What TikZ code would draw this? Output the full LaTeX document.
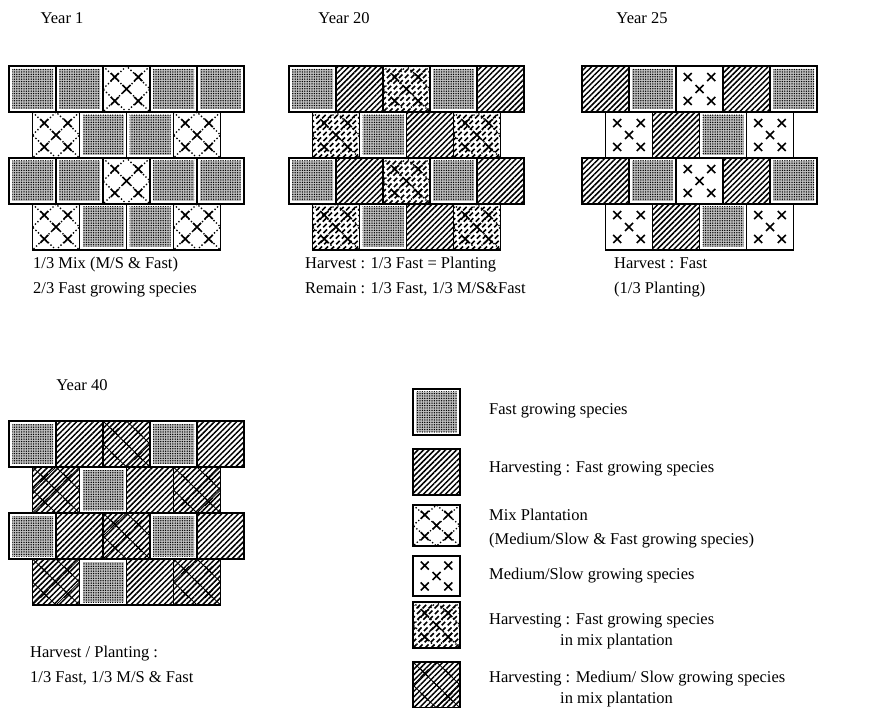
\documentclass[tikz,border=0pt]{standalone}
\usepackage{fontspec}
\setmainfont{Liberation Serif}
\usetikzlibrary{%
	patterns,%
	patterns.meta,%
	positioning,%
}
\tikzset{
	nodes={align=left},%
	celledge/.style={%
			draw=black,%
			line width=1.6pt},%
	fastfill/.style={%
			preaction={fill=black!25},%
			pattern={Dots[distance=2.4pt, radius=0.75pt]},%
			pattern color=black},%
	harvestfill/.style={%
			pattern={Lines[angle=45, distance=3.9pt, line width=1.5pt]}},%
	brokenline/.style={%
			line width=1.6pt,%
			dash pattern=on 5pt off 3pt},%
	xmark/.style={%
			line width=1.6pt},%
	lattice/.style={%
			line width=1.3pt,%
			dash pattern=on 1.3pt off 2.2pt},%
	thinlattice/.style={%
			line width=0.8pt},%
	yeartitle/.style={%
			font=\fontsize{16.5}{19}\selectfont},%
	captiontext/.style={%
			font=\fontsize{16.5}{19}\selectfont,%
			anchor=west,%
			inner sep=0pt,%
			text height=1.6ex,%
			text depth=0.4ex},%
}
\newcommand{\cellw}{47}
\newcommand{\cellh}{46}
% one X mark centred at (#2,#3)
\newcommand{\xat}[3][xmark]{%
	\draw[#1] (#2-4,#3-4) -- (#2+4,#3+4) (#2-4,#3+4) -- (#2+4,#3-4);}
% five X marks of one cell
\newcommand{\slowxs}[3][xmark]{%
	\foreach \ux/\uy in {0.25/0.24, 0.75/0.24, 0.5/0.5, 0.25/0.76, 0.75/0.76}
		{\xat[#1]{#2+\ux*\cellw}{#3+\uy*\cellh}}}
% dotted lattice through the X marks
\newcommand{\mixlattice}[3][lattice]{%
	\draw[#1] (#2,#3) -- ++(\cellw,\cellh) (#2+\cellw,#3) -- ++(-\cellw,\cellh)
		(#2,#3+0.5*\cellh) -- (#2+0.5*\cellw,#3) -- (#2+\cellw,#3+0.5*\cellh)
		-- (#2+0.5*\cellw,#3+\cellh) -- cycle;}
% broken diagonal hatching
\newcommand{\dashhatch}[2]{%
	\begin{scope}
		\clip (#1,#2) rectangle ++(\cellw,\cellh);
		\foreach \d in {-48,-42,...,48}
			\draw[brokenline] (#1+\d,#2+\cellh) -- ++(\cellh,-\cellh);
	\end{scope}}
% the six kinds of cell
\newcommand{\fastcell}[2]{%
	\path[fastfill] (#1+3,#2+3) rectangle (#1+\cellw-3,#2+\cellh-3);
	\draw[celledge] (#1,#2) rectangle ++(\cellw,\cellh);}
\newcommand{\harvcell}[2]{%
	\path[harvestfill] (#1,#2) rectangle ++(\cellw,\cellh);
	\draw[celledge] (#1,#2) rectangle ++(\cellw,\cellh);}
\newcommand{\mixcell}[2]{%
	\mixlattice{#1}{#2}
	\slowxs{#1}{#2}
	\draw[celledge] (#1,#2) rectangle ++(\cellw,\cellh);}
\newcommand{\slowcell}[2]{%
	\slowxs{#1}{#2}
	\draw[celledge] (#1,#2) rectangle ++(\cellw,\cellh);}
\newcommand{\harvmixcell}[2]{%
	\dashhatch{#1}{#2}
	\mixlattice{#1}{#2}
	\slowxs{#1}{#2}
	\draw[celledge] (#1,#2) rectangle ++(\cellw,\cellh);}
\newcommand{\harvslowcell}[2]{%
	\path[harvestfill] (#1,#2) rectangle ++(\cellw,\cellh);
	\mixlattice[thinlattice]{#1}{#2}
	\slowxs[thinlattice]{#1}{#2}
	\draw[celledge] (#1,#2) rectangle ++(\cellw,\cellh);}
% a row of cells from the left edge #1, top #2
\newcommand{\plantrow}[3]{%
	\foreach \t [count=\k from 0] in {#3}
		{\csname\t cell\endcsname{#1+\k*\cellw}{#2}}}

\begin{document}
\begin{tikzpicture}[x=1pt, y=-1pt]
	\useasboundingbox (0,0) rectangle (878,708);

	% Year 1
	\node[yeartitle] (t1) at (62,18) {Year 1};
	\plantrow{9}{66}{fast,fast,mix,fast,fast}
	\plantrow{32.5}{112}{mix,fast,fast,mix}
	\plantrow{9}{158}{fast,fast,mix,fast,fast}
	\plantrow{32.5}{204}{mix,fast,fast,mix}
	\node[captiontext] (c1a) at (33,266) {1/3 Mix (M/S \& Fast)};
	\node[captiontext] (c1b) at (33,291) {2/3 Fast growing species};

	% Year 20
	\node[yeartitle] (t20) at (344,18) {Year 20};
	\plantrow{289}{66}{fast,harv,harvmix,fast,harv}
	\plantrow{312.5}{112}{harvmix,fast,harv,harvmix}
	\plantrow{289}{158}{fast,harv,harvmix,fast,harv}
	\plantrow{312.5}{204}{harvmix,fast,harv,harvmix}
	\node[captiontext] (c20a) at (305,266) {Harvest : 1/3 Fast = Planting};
	\node[captiontext] (c20b) at (305,291) {Remain : 1/3 Fast, 1/3 M/S\&Fast};

	% Year 25
	\node[yeartitle] (t25) at (642,18) {Year 25};
	\plantrow{582}{66}{harv,fast,slow,harv,fast}
	\plantrow{605.5}{112}{slow,harv,fast,slow}
	\plantrow{582}{158}{harv,fast,slow,harv,fast}
	\plantrow{605.5}{204}{slow,harv,fast,slow}
	\node[captiontext] (c25a) at (614,266) {Harvest : Fast};
	\node[captiontext] (c25b) at (614,291) {(1/3 Planting)};

	% Year 40
	\node[yeartitle] (t40) at (82,385) {Year 40};
	\plantrow{9}{421}{fast,harv,harvslow,fast,harv}
	\plantrow{32.5}{467}{harvslow,fast,harv,harvslow}
	\plantrow{9}{513}{fast,harv,harvslow,fast,harv}
	\plantrow{32.5}{559}{harvslow,fast,harv,harvslow}
	\node[captiontext] (c40a) at (30,655) {Harvest / Planting :};
	\node[captiontext] (c40b) at (30,680) {1/3 Fast, 1/3 M/S \& Fast};

	% legend
	\fastcell{413}{389}
	\harvcell{413}{449}
	{\renewcommand{\cellh}{41}\mixcell{413}{505}}
	{\renewcommand{\cellh}{40}\slowcell{413}{556}}
	\harvmixcell{413}{602}
	\harvslowcell{413}{662}
	\node[captiontext] (l1) at (489,412) {Fast growing species};
	\node[captiontext] (l2) at (489,470) {Harvesting : Fast growing species};
	\node[captiontext] (l3a) at (489,518) {Mix Plantation};
	\node[captiontext] (l3b) at (489,542) {(Medium/Slow \& Fast growing species)};
	\node[captiontext] (l4) at (489,577) {Medium/Slow growing species};
	\node[captiontext] (l5a) at (489,622) {Harvesting : Fast growing species};
	\node[captiontext] (l5b) at (560,643) {in mix plantation};
	\node[captiontext] (l6a) at (489,680) {Harvesting : Medium/ Slow growing species};
	\node[captiontext] (l6b) at (560,701) {in mix plantation};
\end{tikzpicture}
\end{document}
